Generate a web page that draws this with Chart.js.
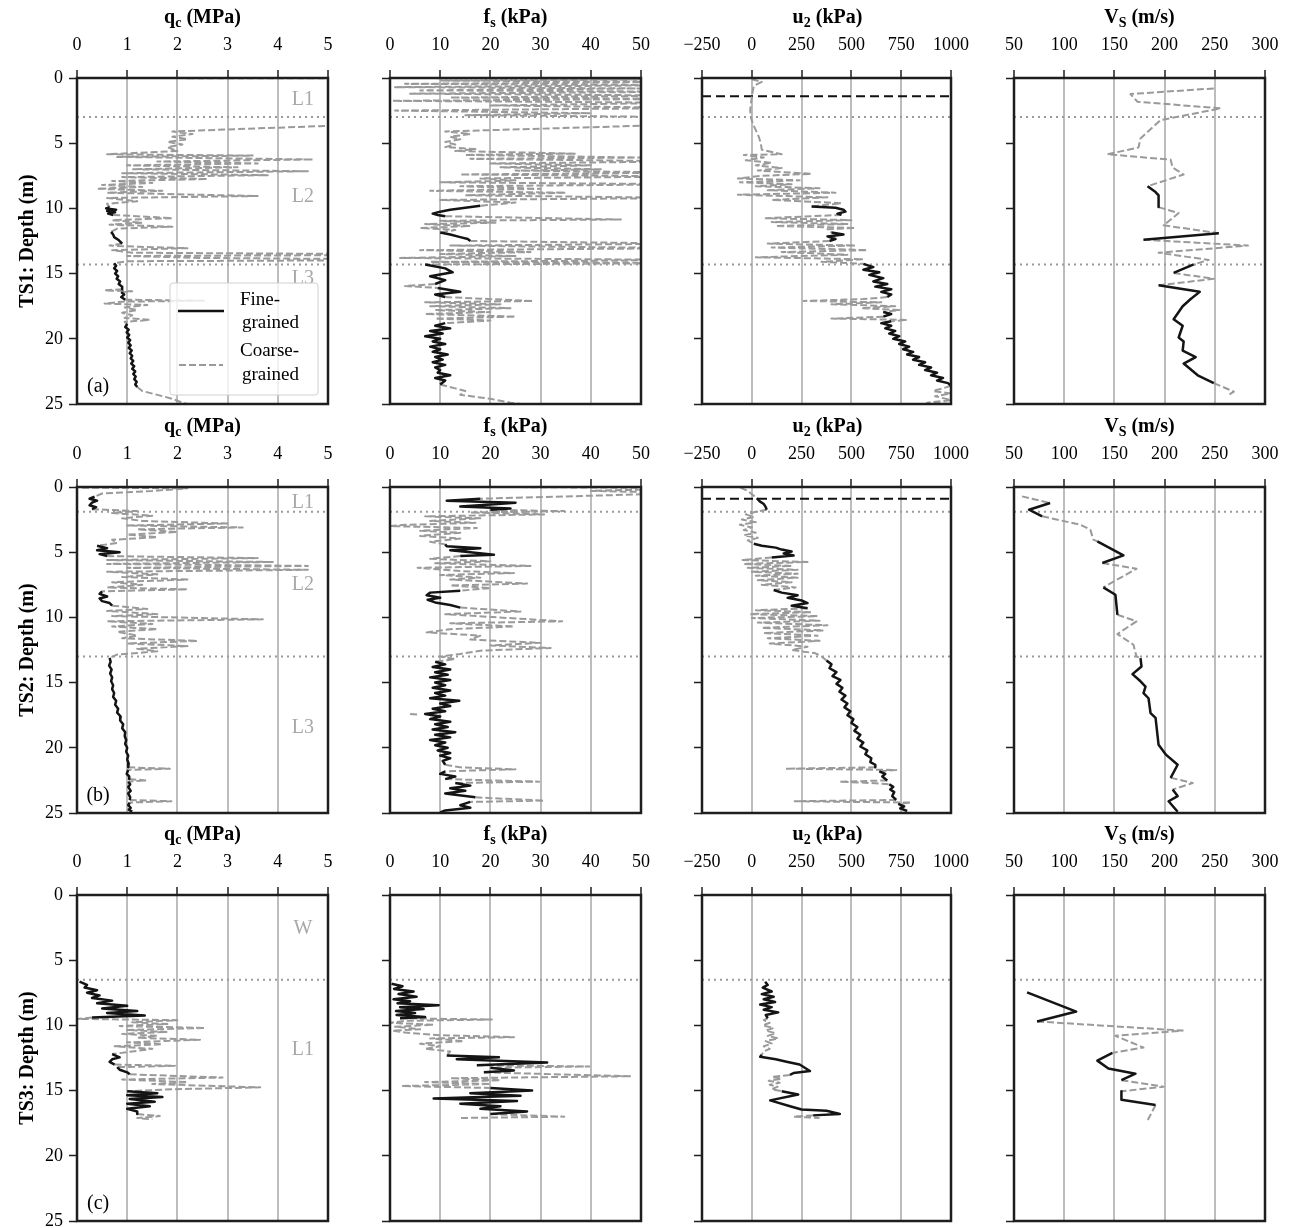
<!DOCTYPE html>
<html>
<head>
<meta charset="utf-8">
<script src="https://cdn.jsdelivr.net/npm/chart.js@4.4.0/dist/chart.umd.min.js"></script>
<style>
  body { margin: 0; background: #fff; width: 1291px; height: 1228px; position: relative; overflow: hidden;
         font-family: "Liberation Serif", "Times New Roman", serif; }
  canvas { position: absolute; }
  .ttl { position: absolute; width: 251px; text-align: center; font-weight: bold; font-size: 20px; line-height: 24px; color: #000; }
  .ttl sub { font-size: 0.7em; vertical-align: -0.3em; line-height: 0; }
</style>
</head>
<body>
<script>
// ---- data: [depth (m), value] pairs, null = gap ----
const ts1Layers = [3.0, 14.3];
const ts2Layers = [1.9, 13.0];
const ts3Layers = [6.5];
const ts1Water = 1.4;
const ts2Water = 0.9;

const ts1QcCoarse = [[0,0.8],[0.05,8],[3.5,8],[3.6,5.5],[4.1,1.9],[4.3,2.3],[4.5,1.9],[4.7,2.2],[4.9,1.8],[5.1,2.1],[5.3,1.8],[5.6,2.0],
  [5.85,0.6],[5.95,3.5],[6.05,0.8],[6.25,4.7],[6.4,1.6],[6.55,3.6],[6.7,1.0],[6.85,3.2],[7.0,1.1],[7.15,4.6],[7.3,0.9],[7.45,3.8],[7.6,0.9],
  [7.75,2.6],[7.9,0.7],[8.05,1.5],[8.2,0.5],[8.35,1.3],[8.5,0.4],[8.65,1.7],[8.8,0.6],[9.05,3.6],[9.2,0.6],[9.45,1.2],[9.65,0.6],[9.9,0.65], null,
  [10.5,0.72],[10.75,1.9],[10.9,0.7],[11.1,1.3],[11.25,0.65],[11.4,1.9],[11.55,0.8],[11.8,0.68], null,
  [12.7,0.9],[12.85,0.65],[12.95,1.25],[13.05,2.2],[13.2,0.7],[13.4,1.1],[13.55,8],[13.65,1.0],[13.8,2.5],[13.95,8],[14.05,1.0],[14.2,0.74], null,
  [16.2,0.9],[16.28,0.55],[16.36,1.1],[16.42,0.88], null,
  [17.0,0.96],[17.08,2.55],[17.15,0.9],[17.3,0.55],[17.4,1.4],[17.6,0.95],[17.8,1.2],[18.0,0.9],[18.2,1.1],[18.4,0.95],[18.55,1.45],[18.7,0.95],[18.85,1.0], null,
  [23.7,1.2],[24.0,1.3],[24.3,1.6],[24.6,1.9],[24.9,2.1],[25,2.2]];
const ts1QcFine = [[9.9,0.65],[10.0,0.58],[10.1,0.78],[10.2,0.6],[10.3,0.76],[10.4,0.62],[10.5,0.72], null,
  [11.8,0.68],[12.0,0.72],[12.2,0.74],[12.4,0.82],[12.55,0.86],[12.7,0.9], null,
  [14.2,0.74],[14.4,0.78],[14.6,0.74],[14.8,0.8],[15.0,0.76],[15.2,0.82],[15.4,0.79],[15.6,0.86],[15.8,0.83],[16.0,0.9],[16.2,0.9], null,
  [16.42,0.88],[16.6,0.94],[16.8,0.88],[17.0,0.96], null,
  [18.85,1.0],[19.1,0.96],[19.3,1.03],[19.5,0.99],[19.7,1.04],[19.9,1.0],[20.1,1.06],[20.3,1.02],[20.5,1.07],[20.7,1.03],[20.9,1.09],
  [21.1,1.05],[21.3,1.1],[21.5,1.07],[21.7,1.12],[21.9,1.08],[22.1,1.14],[22.3,1.1],[22.5,1.16],[22.7,1.12],[22.9,1.17],[23.1,1.14],[23.3,1.19],[23.5,1.16],[23.7,1.2]];

const ts1FsCoarse = [[0,5],[0.1,60],[0.2,10],[0.3,60],[0.45,3],[0.55,60],[0.7,1],[0.8,50],[0.95,6],[1.05,60],[1.2,4],[1.35,60],[1.5,12],[1.6,60],
  [1.75,0.5],[1.9,60],[2.1,20],[2.3,60],[2.5,1],[2.7,40],[2.85,15],[3.0,60],[3.55,60],[4.1,11],[4.3,16],[4.5,12],[4.7,14],[4.9,11],[5.1,13],
  [5.3,11],[5.45,17],[5.6,13],[5.8,37],[5.9,15],[6.1,50],[6.2,16],[6.4,60],[6.55,20],[6.7,40],[6.85,22],[7.0,42],[7.1,25],[7.25,60],[7.4,14],
  [7.55,60],[7.7,18],[7.85,25],[8.0,10],[8.15,60],[8.3,14],[8.5,30],[8.65,8],[8.8,35],[9.0,15],[9.2,60],[9.35,10],[9.55,25],[9.8,18], null,
  [10.6,11],[10.85,46],[10.95,10],[11.1,21],[11.2,7],[11.35,16],[11.5,6],[11.65,13],[11.85,10], null,
  [12.5,16],[12.7,60],[12.85,12],[13.05,60],[13.2,6],[13.35,28],[13.5,10],[13.65,25],[13.8,2],[13.95,60],[14.1,8],[14.2,60],[14.3,7], null,
  [15.8,9],[15.95,3],[16.1,9.5], null,
  [16.8,11],[17.1,28.5],[17.2,7],[17.35,22],[17.5,8],[17.65,24],[17.8,9],[17.95,20],[18.1,7],[18.3,25],[18.45,9],[18.6,20],[18.8,11], null,
  [23.5,10],[23.8,13],[24.0,15],[24.3,14],[24.6,20],[24.9,24],[25,26]];
const ts1FsFine = [[9.8,18],[9.95,15],[10.1,12],[10.25,10],[10.4,8.5],[10.5,9.5],[10.6,11], null,
  [11.85,10],[12.0,12],[12.2,14],[12.35,15.5],[12.5,16], null,
  [14.3,7],[14.6,11],[14.9,12.5],[15.2,8],[15.5,11],[15.8,9], null,
  [16.1,9.5],[16.4,14],[16.6,9],[16.8,11], null,
  [18.8,11],[19.0,9],[19.2,12],[19.4,8],[19.6,10.5],[19.8,7],[20.0,10],[20.2,8.5],[20.4,11],[20.6,8],[20.8,10],[21.0,8.5],[21.2,11.5],
  [21.4,9],[21.6,10.5],[21.8,8.5],[22.0,11],[22.2,9],[22.4,10],[22.6,9.5],[22.8,12],[23.0,9],[23.2,11],[23.5,10]];

const ts1U2Coarse = [[0.1,0],[0.3,50],[0.6,10],[1.0,5],[1.5,0],[2.0,-5],[2.5,-8],[3.0,-5],[3.5,5],[4.0,20],[4.5,35],[5.0,45],[5.5,50],
  [5.85,150],[5.9,-40],[6.1,60],[6.3,-30],[6.5,100],[6.7,20],[6.9,150],[7.1,30],[7.35,300],[7.5,50],[7.7,-70],[7.85,240],[8.0,-60],[8.15,200],
  [8.3,20],[8.45,340],[8.6,80],[8.8,420],[8.95,-70],[9.15,380],[9.35,100],[9.6,450],[9.85,300], null,
  [10.5,450],[10.75,70],[10.9,500],[11.05,100],[11.2,480],[11.35,120],[11.5,520],[11.6,380],[11.85,400], null,
  [12.5,390],[12.7,80],[12.85,520],[13.0,100],[13.2,580],[13.35,150],[13.55,480],[13.75,20],[13.9,560],[14.1,350],[14.25,560], null,
  [16.8,680],[16.95,560],[17.1,260],[17.2,650],[17.35,400],[17.5,720],[17.65,550],[17.8,740],[17.95,660], null,
  [18.3,660],[18.45,400],[18.55,780],[18.65,700], null,
  [23.6,1000],[23.8,960],[24.0,910],[24.2,1000],[24.4,920],[24.7,1000],[24.9,880],[25,1000]];
const ts1U2Fine = [[9.85,300],[9.95,420],[10.1,460],[10.25,470],[10.4,430],[10.5,450], null,
  [11.85,400],[12.0,460],[12.15,380],[12.35,420],[12.5,390], null,
  [14.25,560],[14.5,610],[14.7,560],[14.9,640],[15.1,590],[15.35,660],[15.6,610],[15.8,680],[16.0,620],[16.2,700],[16.4,650],[16.6,700],[16.8,680], null,
  [17.95,660],[18.1,700],[18.3,660], null,
  [18.65,700],[18.8,650],[19.0,700],[19.2,670],[19.4,720],[19.6,690],[19.8,740],[20.0,710],[20.2,770],[20.4,740],[20.6,790],[20.8,760],
  [21.0,810],[21.2,780],[21.4,840],[21.6,810],[21.8,870],[22.0,840],[22.2,900],[22.4,870],[22.6,930],[22.8,900],[23.0,960],[23.2,930],[23.4,985],[23.6,1000]];

const ts1VsCoarse = [[0.8,249],[1.23,166],[1.82,173],[2.33,256],[3.23,196],[4.64,176],[5.33,174],[5.85,143],[6.26,206],[6.87,208],[7.4,219],[8.3,183], null,
  [9.9,194],[10.36,214],[11.3,199],[11.9,254], null,
  [12.4,179],[12.85,283],[13.4,194],[13.95,244],[14.3,229], null,
  [14.95,209],[15.4,249],[15.9,194], null,
  [23.4,249],[24.05,269],[24.3,264]];
const ts1VsFine = [[8.3,183],[8.75,191],[9.0,194],[9.9,194], null,
  [11.9,254],[12.4,179], null,
  [14.3,229],[14.95,209], null,
  [15.9,194],[16.4,235],[16.95,226],[17.5,218],[18.5,209],[19.0,218],[19.9,214],[20.2,219],[20.9,218],[21.4,231],[21.9,219],[22.8,233],[23.4,249]];

const ts2QcCoarse = [[0.05,0.1],[0.1,2.2],[0.3,1.5],[0.5,0.5],[0.75,0.35], null,
  [1.7,0.3],[1.85,1.2],[2.0,0.7],[2.2,1.5],[2.4,0.9],[2.6,1.3],[2.8,3.0],[2.95,1.0],[3.1,3.3],[3.25,1.2],[3.45,2.0],[3.65,1.0],[3.85,1.6],[4.05,0.7],[4.3,0.8],[4.5,0.4], null,
  [5.3,0.6],[5.45,3.6],[5.6,0.6],[5.75,3.9],[5.9,0.6],[6.05,4.6],[6.2,1.0],[6.35,4.6],[6.5,0.6],[6.7,1.6],[6.9,0.9],[7.1,2.2],[7.3,0.7],[7.5,1.3],[7.7,0.6],[7.85,2.2],[8.0,0.5], null,
  [9.1,0.7],[9.35,1.4],[9.5,0.6],[9.75,1.6],[9.9,0.7],[10.15,3.7],[10.3,0.6],[10.5,1.5],[10.7,0.7],[10.9,1.6],[11.1,0.8],[11.4,1.2],[11.6,0.9],
  [11.8,2.4],[12.0,1.0],[12.2,2.2],[12.4,1.2],[12.6,1.6],[12.85,0.8],[13.1,0.65], null,
  [21.5,1.02],[21.6,1.85],[21.7,1.02], null,
  [22.4,1.04],[22.5,1.38],[22.6,1.02], null,
  [24.0,1.05],[24.1,1.88],[24.2,1.05]];
const ts2QcFine = [[0.75,0.35],[0.9,0.25],[1.05,0.4],[1.2,0.3],[1.4,0.25],[1.55,0.38],[1.7,0.3], null,
  [4.5,0.4],[4.7,0.6],[4.85,0.4],[5.0,0.85],[5.15,0.45],[5.3,0.6], null,
  [8.0,0.5],[8.2,0.45],[8.4,0.6],[8.55,0.45],[8.75,0.5],[8.9,0.65],[9.1,0.7], null,
  [13.1,0.65],[13.4,0.67],[13.7,0.64],[14.0,0.69],[14.3,0.66],[14.6,0.7],[14.9,0.68],[15.2,0.72],[15.5,0.7],[15.8,0.74],[16.1,0.72],
  [16.4,0.78],[16.7,0.76],[17.0,0.82],[17.3,0.8],[17.6,0.87],[17.9,0.86],[18.2,0.92],[18.5,0.9],[18.8,0.96],[19.1,0.95],[19.4,0.98],
  [19.7,0.96],[20.0,1.0],[20.3,0.98],[20.6,1.02],[20.9,1.0],[21.2,1.03],[21.5,1.02], null,
  [21.7,1.02],[22.0,0.99],[22.2,1.04],[22.4,1.04], null,
  [22.6,1.02],[22.8,1.06],[23.0,1.02],[23.3,1.07],[23.5,1.02],[23.8,1.06],[24.0,1.05], null,
  [24.2,1.05],[24.4,1.02],[24.6,1.07],[24.75,1.03],[24.9,1.1]];

const ts2FsCoarse = [[0,22],[0.08,60],[0.3,40],[0.46,60],[0.9,18], null,
  [1.75,20],[1.85,34.7],[1.95,16],[2.1,30.7],[2.25,7],[2.4,18],[2.6,8],[2.75,17],[2.9,3],[3.0,0],[3.15,17.3],[3.35,6],[3.5,14],[3.75,6],[3.95,14],[4.2,8],[4.4,11], null,
  [5.3,14],[5.5,8],[5.7,20],[5.85,9],[6.05,28],[6.2,5.5],[6.45,14],[6.6,24.7],[6.75,10],[6.95,18],[7.1,12],[7.4,27.3],[7.55,12],[7.75,20],[7.95,14], null,
  [9.25,14],[9.55,26],[9.75,11],[10.3,34.3],[10.45,12],[10.7,24.7],[10.9,12],[11.15,7.3],[11.4,18],[11.7,16],[11.95,30],[12.15,20],[12.35,32],
  [12.55,18],[12.8,14],[13.0,10],[13.2,13],[13.4,9], null,
  [17.4,4],[17.45,5.5], null,
  [21.3,11],[21.5,14],[21.65,25],[21.8,11], null,
  [22.4,11],[22.6,29.7],[22.7,13], null,
  [23.8,17],[24.05,30.7],[24.15,16]];
const ts2FsFine = [[0.9,18],[1.05,11.3],[1.2,25],[1.35,20],[1.5,14],[1.65,24],[1.75,20], null,
  [4.4,11],[4.55,11.3],[4.7,18],[4.85,12],[5.0,16],[5.2,20.7],[5.3,14], null,
  [7.95,14],[8.1,8],[8.3,7.3],[8.5,10],[8.65,7.5],[8.85,9],[9.05,12],[9.25,14], null,
  [13.4,9],[13.6,11],[13.8,8.5],[14.0,12],[14.2,9],[14.4,11.5],[14.6,8],[14.8,12],[15.0,9],[15.2,11],[15.4,8.5],[15.6,12],[15.8,9],[16.0,11],
  [16.2,8],[16.4,13.8],[16.6,10],[16.8,12],[17.0,8.5],[17.2,11],[17.4,7],[17.6,10],[17.8,8],[18.0,12],[18.2,9],[18.4,11.5],[18.6,8.5],
  [18.8,13],[19.0,9],[19.2,12],[19.4,8],[19.6,11],[19.8,9],[20.0,11.5],[20.2,9.5],[20.4,12],[20.6,10],[20.8,12],[21.0,10.5],[21.3,11], null,
  [21.8,11],[22.0,10],[22.2,13],[22.4,11], null,
  [22.7,13],[22.9,16],[23.1,12],[23.3,15],[23.5,11],[23.8,17], null,
  [24.15,16],[24.4,14],[24.6,16],[24.8,11],[24.95,10]];

const ts2U2Coarse = [[0.05,-58],[0.3,-20],[0.55,0],[0.85,25], null,
  [1.74,75],[1.9,20],[2.1,-30],[2.3,10],[2.5,-50],[2.7,20],[2.9,-60],[3.1,0],[3.3,-40],[3.5,20],[3.7,-40],[3.9,30],[4.1,-20],[4.35,10], null,
  [5.4,100],[5.6,-50],[5.75,280],[5.9,-40],[6.05,200],[6.2,-20],[6.35,230],[6.5,0],[6.65,230],[6.8,20],[6.95,230],[7.15,30],[7.3,200],[7.5,50],[7.7,220],[7.9,110], null,
  [9.3,280],[9.45,20],[9.6,300],[9.75,-10],[9.9,330],[10.05,0],[10.25,340],[10.4,30],[10.6,380],[10.8,50],[11.0,360],[11.2,60],[11.4,330],
  [11.6,80],[11.8,340],[12.0,90],[12.25,280],[12.5,200],[12.75,320],[13.0,350],[13.3,375], null,
  [21.5,620],[21.6,170],[21.7,725],[21.8,640], null,
  [22.5,680],[22.6,440],[22.7,600],[22.8,690], null,
  [24.0,725],[24.1,215],[24.2,800],[24.3,735]];
const ts2U2Fine = [[0.85,25],[1.1,40],[1.3,60],[1.55,70],[1.74,75], null,
  [4.35,10],[4.5,50],[4.65,120],[4.8,150],[4.95,200],[5.1,160],[5.25,210],[5.4,100], null,
  [7.9,110],[8.1,150],[8.3,230],[8.5,180],[8.7,250],[8.9,280],[9.1,200],[9.3,280], null,
  [13.3,375],[13.6,400],[13.9,390],[14.2,425],[14.5,405],[14.8,445],[15.1,425],[15.4,455],[15.7,440],[16.0,470],[16.3,450],[16.6,480],
  [16.9,465],[17.2,495],[17.5,480],[17.8,510],[18.1,500],[18.4,530],[18.7,515],[19.0,545],[19.3,530],[19.6,560],[19.9,545],[20.2,580],
  [20.5,570],[20.8,600],[21.1,595],[21.3,620],[21.5,620], null,
  [21.8,640],[22.0,670],[22.2,655],[22.5,680], null,
  [22.8,690],[23.0,710],[23.2,695],[23.4,715],[23.7,705],[24.0,725], null,
  [24.3,735],[24.5,765],[24.65,745],[24.85,780]];

const ts2VsCoarse = [[0.72,58],[1.23,86], null,
  [2.25,78],[2.89,116],[3.27,126],[4.04,129],[4.17,133], null,
  [5.83,138],[6.27,172],[7.7,139], null,
  [9.8,153],[10.3,172],[11.28,153],[12.1,169],[13.0,172],[13.12,176], null,
  [22.3,206],[22.7,228],[23.2,208]];
const ts2VsFine = [[1.23,86],[1.74,65],[2.25,78], null,
  [4.17,133],[5.24,159],[5.83,138], null,
  [7.7,139],[8.26,151],[9.8,153], null,
  [13.12,176],[13.76,177],[14.35,168],[14.9,176],[15.3,181],[15.8,179],[16.2,184],[17.34,186],[17.7,191],[19.77,194],[20.5,201],[21.3,213],[22.3,206], null,
  [23.2,208],[23.7,213],[24.1,204],[24.9,213]];

const ts3QcCoarse = [[9.4,0.3],[9.5,0.0],[9.6,2.0],[9.75,1.1],[9.9,1.8],[10.05,0.85],[10.2,2.55],[10.35,1.0],[10.5,1.8],[10.65,0.9],[10.8,1.6],
  [10.95,1.2],[11.1,2.45],[11.3,1.0],[11.45,1.7],[11.6,0.75],[11.8,1.5],[12.0,1.1],[12.2,0.7], null,
  [13.0,0.75],[13.1,1.95],[13.2,0.8], null,
  [13.75,1.05],[14.0,2.9],[14.15,0.9],[14.35,2.2],[14.5,1.5],[14.75,3.65],[14.9,1.9],[15.05,1.0], null,
  [16.8,1.2],[16.95,1.65],[17.1,1.2],[17.2,1.5]];
const ts3QcFine = [[6.65,0.05],[6.9,0.2],[7.1,0.15],[7.3,0.4],[7.5,0.2],[7.7,0.45],[7.9,0.3],[8.1,0.7],[8.3,0.4],[8.5,1.0],[8.7,0.5],
  [8.9,1.2],[9.05,0.6],[9.25,1.35],[9.4,0.3], null,
  [12.2,0.7],[12.45,0.85],[12.6,0.7],[12.8,0.65],[13.0,0.75], null,
  [13.2,0.8],[13.4,0.85],[13.6,1.0],[13.75,1.05], null,
  [15.05,1.0],[15.2,1.6],[15.35,1.0],[15.5,1.7],[15.65,1.05],[15.85,1.55],[16.0,1.0],[16.2,1.45],[16.4,1.0],[16.6,1.2],[16.8,1.2]];

const ts3FsCoarse = [[9.45,2],[9.55,20.3],[9.65,3],[9.8,0],[9.95,8.7],[10.1,1],[10.3,6],[10.4,0.5],[10.55,3],[10.75,10],[10.9,24.7],[11.0,8],
  [11.2,14.7],[11.4,6],[11.6,10],[11.8,7],[12.0,12],[12.3,11.3], null,
  [13.05,17.3],[13.15,39.7],[13.25,20], null,
  [13.6,18.7],[13.9,48],[14.05,12],[14.2,22],[14.35,7],[14.5,20],[14.65,2.3],[14.8,20], null,
  [16.8,20],[17.0,34.7],[17.1,14]];
const ts3FsFine = [[6.8,0.3],[7.0,2.5],[7.2,0.8],[7.4,4.7],[7.6,1.7],[7.8,5.3],[8.0,0.7],[8.15,4],[8.3,1.5],[8.45,9.7],[8.6,2],[8.75,6.7],
  [8.9,1.2],[9.05,5],[9.2,1.3],[9.35,7],[9.45,2], null,
  [12.3,11.3],[12.45,21.7],[12.6,13.3],[12.85,31.3],[13.05,17.3], null,
  [13.25,20],[13.45,24.7],[13.6,18.7], null,
  [14.8,20],[15.0,28.3],[15.2,16],[15.4,26],[15.6,8.7],[15.8,25.3],[16.0,14],[16.2,22],[16.4,18],[16.6,27.3],[16.8,20]];

const ts3U2Coarse = [[9.45,80],[9.6,60],[9.8,90],[10.0,55],[10.2,110],[10.4,70],[10.6,120],[10.8,80],[11.0,133],[11.2,70],[11.4,100],
  [11.6,60],[11.8,90],[12.0,60],[12.25,50], null,
  [13.8,192],[13.95,100],[14.1,150],[14.25,85],[14.4,140],[14.55,90],[14.7,130],[14.9,100],[15.05,150], null,
  [16.9,308],[17.0,210],[17.1,340]];
const ts3U2Fine = [[6.65,67],[6.9,80],[7.1,55],[7.4,100],[7.6,50],[7.8,110],[8.0,60],[8.2,117],[8.4,42],[8.6,100],[8.8,60],[9.0,133],[9.2,70],[9.45,80], null,
  [12.25,50],[12.4,42],[12.6,120],[12.8,180],[13.0,240],[13.5,292],[13.65,210],[13.8,192], null,
  [15.05,150],[15.3,233],[15.75,92],[16.2,192],[16.45,250],[16.55,375],[16.8,442],[16.9,308]];

const ts3VsCoarse = [[9.7,73],[10.4,218],[10.8,151],[11.7,179],[12.1,148], null,
  [14.2,157],[14.7,199],[15.05,157], null,
  [16.1,191],[17.3,183]];
const ts3VsFine = [[7.47,63],[8.94,112],[9.7,73], null,
  [12.1,148],[12.7,133],[13.3,144],[13.7,171],[14.2,157], null,
  [15.05,157],[15.7,157],[16.1,191]];

// ---- axes ----
const colTitles = ['q<sub>c</sub> (MPa)', 'f<sub>s</sub> (kPa)', 'u<sub>2</sub> (kPa)', 'V<sub>S</sub> (m/s)'];
const colMin = [0, 0, -250, 50];
const colMax = [5, 50, 1000, 300];
const colStep = [1, 10, 250, 50];
const rowTitles = ['TS1: Depth (m)', 'TS2: Depth (m)', 'TS3: Depth (m)'];
const panelTags = ['(a)', '(b)', '(c)'];

// ---- layout ----
const FONT = '"Liberation Serif", "Times New Roman", serif';
Chart.defaults.font.family = FONT;
const AREA_LEFT = [77, 390, 702, 1014];
const AREA_TOP = [78, 487, 895];
const AREA_W = 251, AREA_H = 326;
const PAD_L = 70, PAD_T = 78, PAD_R = 30, PAD_B = 20;

const toPts = arr => arr.map(p => p ? { x: p[1], y: p[0] } : { x: null, y: null });
const hline = (d, col) => [{ x: colMin[col], y: d }, { x: colMax[col], y: d }];

const framePlugin = {
  id: 'frame',
  afterDraw(chart) {
    const a = chart.chartArea, ctx = chart.ctx;
    ctx.save();
    ctx.strokeStyle = '#1e1e1e';
    ctx.lineWidth = 2.5;
    ctx.strokeRect(a.left, a.top, a.right - a.left, a.bottom - a.top);
    ctx.restore();
  }
};

function notesPlugin(notes) {
  return {
    id: 'notes',
    afterDatasetsDraw(chart) {
      const ctx = chart.ctx, xs = chart.scales.x, ys = chart.scales.y;
      ctx.save();
      ctx.font = '20px ' + FONT;
      ctx.textAlign = 'center';
      ctx.textBaseline = 'middle';
      notes.forEach(n => {
        ctx.fillStyle = n.c;
        ctx.fillText(n.t, xs.getPixelForValue(n.x), ys.getPixelForValue(n.y));
      });
      ctx.restore();
    }
  };
}

const legendPlugin = {
  id: 'soilLegend',
  afterDraw(chart) {
    const a = chart.chartArea, ctx = chart.ctx;
    const bx = a.left + 93, by = a.top + 205, bw = 148, bh = 112;
    ctx.save();
    ctx.fillStyle = 'rgba(255,255,255,0.8)';
    ctx.strokeStyle = '#d0d0d0';
    ctx.lineWidth = 1;
    ctx.beginPath();
    ctx.roundRect(bx, by, bw, bh, 3);
    ctx.fill();
    ctx.stroke();
    ctx.lineWidth = 2.4;
    ctx.strokeStyle = '#111';
    ctx.beginPath(); ctx.moveTo(bx + 8, by + 28); ctx.lineTo(bx + 54, by + 28); ctx.stroke();
    ctx.strokeStyle = '#999';
    ctx.lineWidth = 2;
    ctx.setLineDash([7, 3]);
    ctx.beginPath(); ctx.moveTo(bx + 9, by + 82); ctx.lineTo(bx + 53, by + 82); ctx.stroke();
    ctx.setLineDash([]);
    ctx.fillStyle = '#000';
    ctx.font = '19px ' + FONT;
    ctx.textAlign = 'left';
    ctx.textBaseline = 'middle';
    ctx.fillText('Fine-', bx + 70, by + 17);
    ctx.fillText('grained', bx + 72, by + 40);
    ctx.fillText('Coarse-', bx + 70, by + 68);
    ctx.fillText('grained', bx + 72, by + 92);
    ctx.restore();
  }
};

function makePanel(row, col, coarse, fine, layers, water, notes, legend) {
  const cv = document.createElement('canvas');
  const W = PAD_L + AREA_W + PAD_R, H = PAD_T + AREA_H + PAD_B;
  cv.width = W; cv.height = H;
  cv.style.left = (AREA_LEFT[col] - PAD_L) + 'px';
  cv.style.top = (AREA_TOP[row] - PAD_T) + 'px';
  cv.style.width = W + 'px'; cv.style.height = H + 'px';
  document.body.appendChild(cv);

  const datasets = [
    { data: toPts(fine), borderColor: '#141414', borderWidth: 2.5 },
    { data: toPts(coarse), borderColor: '#9a9a9a', borderWidth: 2, borderDash: [7, 3] }
  ];
  layers.forEach(d => datasets.push({ data: hline(d, col), borderColor: '#9a9a9a', borderWidth: 2, borderDash: [2, 4] }));
  if (water !== null) datasets.push({ data: hline(water, col), borderColor: '#111', borderWidth: 2.2, borderDash: [9, 5] });
  datasets.forEach(ds => {
    ds.showLine = true; ds.pointRadius = 0; ds.spanGaps = false; ds.borderJoinStyle = 'round';
  });

  const plugins = [notesPlugin(notes), framePlugin];
  if (legend) plugins.push(legendPlugin);

  new Chart(cv, {
    type: 'scatter',
    data: { datasets },
    options: {
      responsive: false, animation: false, events: [],
      layout: { padding: { left: 0, top: 0, right: PAD_R, bottom: PAD_B } },
      plugins: { legend: { display: false }, tooltip: { enabled: false } },
      scales: {
        x: {
          type: 'linear', position: 'top', min: colMin[col], max: colMax[col],
          ticks: { stepSize: colStep[col], padding: 14, color: '#000', font: { size: 18 },
                   callback: v => String(v).replace('-', '\u2212') },
          grid: { color: '#bdbdbd', lineWidth: 2, tickColor: '#1e1e1e', tickWidth: 1.5, tickLength: 8 },
          border: { display: false },
          afterFit: s => { s.height = PAD_T; }
        },
        y: {
          type: 'linear', reverse: true, min: 0, max: 25,
          ticks: { stepSize: 5, display: col === 0, padding: 6, color: '#000', font: { size: 18 } },
          grid: { drawOnChartArea: false, color: '#1e1e1e', tickColor: '#1e1e1e', tickWidth: 1.5, tickLength: 8 },
          border: { display: false },
          title: { display: col === 0, text: rowTitles[row], color: '#000', font: { size: 20, weight: 'bold' },
                   padding: { top: 9, bottom: 0 } },
          afterFit: s => { s.width = PAD_L; }
        }
      }
    },
    plugins
  });
}

function addTitle(row, col) {
  const d = document.createElement('div');
  d.className = 'ttl';
  d.innerHTML = colTitles[col];
  d.style.left = AREA_LEFT[col] + 'px';
  d.style.top = (AREA_TOP[row] - 62 - 12) + 'px';
  document.body.appendChild(d);
}

const GRAY_TXT = '#a8a8a8';
const rows = [
  { qc: [ts1QcCoarse, ts1QcFine], fs: [ts1FsCoarse, ts1FsFine], u2: [ts1U2Coarse, ts1U2Fine], vs: [ts1VsCoarse, ts1VsFine],
    layers: ts1Layers, water: ts1Water,
    labels: [{ t: 'L1', x: 4.5, y: 1.7, c: GRAY_TXT }, { t: 'L2', x: 4.5, y: 9.1, c: GRAY_TXT }, { t: 'L3', x: 4.5, y: 15.4, c: GRAY_TXT }] },
  { qc: [ts2QcCoarse, ts2QcFine], fs: [ts2FsCoarse, ts2FsFine], u2: [ts2U2Coarse, ts2U2Fine], vs: [ts2VsCoarse, ts2VsFine],
    layers: ts2Layers, water: ts2Water,
    labels: [{ t: 'L1', x: 4.5, y: 1.2, c: GRAY_TXT }, { t: 'L2', x: 4.5, y: 7.5, c: GRAY_TXT }, { t: 'L3', x: 4.5, y: 18.5, c: GRAY_TXT }] },
  { qc: [ts3QcCoarse, ts3QcFine], fs: [ts3FsCoarse, ts3FsFine], u2: [ts3U2Coarse, ts3U2Fine], vs: [ts3VsCoarse, ts3VsFine],
    layers: ts3Layers, water: null,
    labels: [{ t: 'W', x: 4.5, y: 2.6, c: GRAY_TXT }, { t: 'L1', x: 4.5, y: 11.9, c: GRAY_TXT }] }
];

rows.forEach((r, i) => {
  const qcNotes = r.labels.concat([{ t: panelTags[i], x: 0.42, y: 23.7, c: '#000' }]);
  makePanel(i, 0, r.qc[0], r.qc[1], r.layers, null, qcNotes, i === 0);
  makePanel(i, 1, r.fs[0], r.fs[1], r.layers, null, [], false);
  makePanel(i, 2, r.u2[0], r.u2[1], r.layers, r.water, [], false);
  makePanel(i, 3, r.vs[0], r.vs[1], r.layers, null, [], false);
  for (let c = 0; c < 4; c++) addTitle(i, c);
});
</script>
</body>
</html>
